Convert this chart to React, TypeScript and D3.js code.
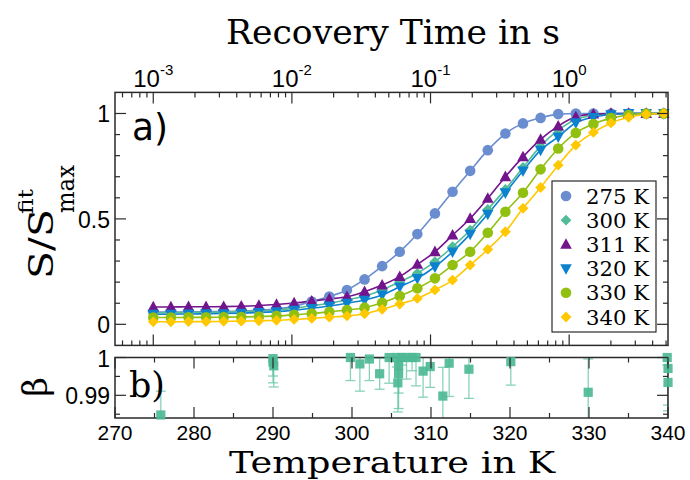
import React from 'react';
import * as d3 from 'd3';

// ---------- DATA ----------
const recoveryTimes = [
  0.001, 0.00134, 0.001795, 0.002404, 0.003221, 0.004315, 0.00578, 0.007745, 0.010375, 0.0139,
  0.01862, 0.02495, 0.03342, 0.04477, 0.05998, 0.08035, 0.1076, 0.1442, 0.1932, 0.2588,
  0.3467, 0.4645, 0.6223, 0.8337, 1.117, 1.496, 2.004, 2.685, 3.597, 4.819,
];

const s275 = [0.058, 0.058, 0.059, 0.06, 0.061, 0.063, 0.067, 0.073, 0.085, 0.108, 0.132, 0.163, 0.213, 0.276, 0.344, 0.428, 0.526, 0.629, 0.728, 0.826, 0.905, 0.953, 0.979, 0.997, 1.0, 1.0, 1.0, 1.0, 1.0, 1.0];
const s300 = [0.055, 0.055, 0.056, 0.057, 0.058, 0.06, 0.063, 0.068, 0.077, 0.088, 0.1, 0.115, 0.134, 0.163, 0.202, 0.242, 0.297, 0.368, 0.447, 0.545, 0.64, 0.744, 0.845, 0.921, 0.972, 0.99, 0.998, 1.0, 1.0, 1.0];
const s311 = [0.082, 0.082, 0.083, 0.083, 0.084, 0.086, 0.089, 0.094, 0.101, 0.11, 0.12, 0.131, 0.155, 0.186, 0.226, 0.284, 0.344, 0.423, 0.502, 0.597, 0.7, 0.794, 0.877, 0.94, 0.984, 0.997, 1.0, 1.0, 1.0, 1.0];
const s320 = [0.048, 0.048, 0.049, 0.05, 0.051, 0.053, 0.056, 0.06, 0.067, 0.076, 0.087, 0.1, 0.115, 0.139, 0.178, 0.218, 0.273, 0.344, 0.428, 0.523, 0.624, 0.728, 0.826, 0.889, 0.956, 0.982, 0.995, 1.0, 1.0, 1.0];
const s330 = [0.032, 0.032, 0.033, 0.033, 0.034, 0.035, 0.037, 0.04, 0.045, 0.051, 0.059, 0.068, 0.079, 0.102, 0.134, 0.171, 0.218, 0.281, 0.344, 0.434, 0.534, 0.624, 0.735, 0.834, 0.908, 0.95, 0.978, 0.993, 1.0, 1.0];
const s340 = [0.012, 0.012, 0.013, 0.013, 0.014, 0.015, 0.017, 0.019, 0.023, 0.028, 0.034, 0.04, 0.05, 0.071, 0.096, 0.123, 0.163, 0.21, 0.281, 0.355, 0.439, 0.55, 0.649, 0.755, 0.85, 0.91, 0.955, 0.982, 0.996, 1.0];

const seriesLabels = ['275 K', '300 K', '311 K', '320 K', '330 K', '340 K'];
const seriesValues = [s275, s300, s311, s320, s330, s340];
const seriesColors = ['#6a8dcf', '#52bb98', '#72148c', '#0c82cf', '#92c011', '#ffc800'];
const seriesShapes = ['circle', 'diamond', 'triUp', 'triDown', 'circle', 'diamond'];

const betaTemps = [275.8, 290.0, 290.0, 290.1, 299.8, 301.0, 302.2, 303.5, 304.7, 305.7, 306.3, 306.9, 307.6, 308.1, 305.9, 305.9, 305.8, 309.0, 309.9, 311.5, 312.3, 314.8, 320.1, 329.9, 339.9, 340.0, 340.0];
const betaValues = [0.9848, 0.9997, 0.9988, 0.9978, 1.0, 0.9983, 0.9996, 0.9957, 1.0, 1.0, 1.0, 1.0, 1.0, 1.0, 0.9978, 0.9958, 0.9933, 0.9964, 0.9976, 0.9898, 0.9985, 0.9969, 0.9989, 0.9908, 1.0, 0.9971, 0.9934];
const betaErrors = [0.0063, 0.0046, 0.0055, 0.0056, 0.0061, 0.0072, 0.0057, 0.0041, 0.0068, 0.0025, 0.002, 0.0057, 0.0035, 0.0075, 0.0072, 0.0093, 0.0077, 0.0069, 0.0055, 0.0076, 0.0088, 0.0077, 0.0062, 0.0088, 0.002, 0.0097, 0.0075];

const topYTicks = [0, 0.1, 0.2, 0.3, 0.4, 0.5, 0.6, 0.7, 0.8, 0.9, 1.0];
const topYLabels = [{ v: 0, t: '0' }, { v: 0.5, t: '0.5' }, { v: 1, t: '1' }];
const tempTicks = [270, 275, 280, 285, 290, 295, 300, 305, 310, 315, 320, 325, 330, 335, 340];
const tempLabels = [270, 280, 290, 300, 310, 320, 330, 340];
const betaTicks = [0.985, 0.99, 0.995, 1.0];
const betaLabels = [{ v: 0.99, t: '0.99' }, { v: 1.0, t: '1' }];
const decadeLabels = [-3, -2, -1, 0];

// ---------- LAYOUT ----------
const L = 115, R = 668;
const T1 = 92.4, B1 = 345.4;
const T2 = 357.5, B2 = 418;

const xTime = d3.scaleLog().domain([Math.pow(10, -3.276), Math.pow(10, 0.713)]).range([L, R]);
const yS = d3.scaleLinear().domain([-0.1, 1.1]).range([B1, T1]);
const xTemp = d3.scaleLinear().domain([270, 340]).range([L, R]);
const yBeta = d3.scaleLinear().domain([0.984, 1.0]).range([B2, T2]);

const SANS = 'Liberation Sans, Arial, sans-serif';
const SERIF = 'DejaVu Serif, serif';
const AX = '#2a2a2a';

function Marker({ shape, x, y, color }: { shape: string; x: number; y: number; color: string }) {
  if (shape === 'circle') return <circle cx={x} cy={y} r={5.3} fill={color} />;
  let p = '';
  if (shape === 'diamond') p = 'M0,-5.4L5.4,0L0,5.4L-5.4,0Z';
  else if (shape === 'triUp') p = 'M0,-6.2L5.8,4.4L-5.8,4.4Z';
  else p = 'M0,6.2L5.8,-4.4L-5.8,-4.4Z';
  return <path d={p} transform={`translate(${x},${y})`} fill={color} />;
}

export default function App() {
  const line = d3
    .line<number>()
    .x((_, i) => xTime(recoveryTimes[i]))
    .y((d) => yS(d))
    .curve(d3.curveMonotoneX);

  const logTicks = xTime.ticks();
  const isMajorLog = (v: number) => Math.abs(Math.log10(v) - Math.round(Math.log10(v))) < 1e-6;

  return (
    <svg width={690} height={480} style={{ position: 'absolute', left: 0, top: 0, background: '#fff' }}>
      <defs>
        <clipPath id="clipB">
          <rect x={L} y={T2} width={R - L} height={B2 - T2} />
        </clipPath>
      </defs>
      <rect x={0} y={0} width={690} height={480} fill="#fff" />

      {/* Title top */}
      <text x={393} y={44} fontFamily={SERIF} fontSize={33} textAnchor="middle" textLength={334} lengthAdjust="spacingAndGlyphs" fill="#000">
        Recovery Time in s
      </text>

      {/* top axis labels */}
      {decadeLabels.map((e) => (
        <text key={e} x={xTime(Math.pow(10, e))} y={87} fontFamily={SANS} fontSize={24} textAnchor="middle" fill="#000">
          <tspan>10</tspan>
          <tspan fontSize={15} dy={-12}>{e === 0 ? '0' : `-${-e}`}</tspan>
        </text>
      ))}

      {/* Series lines */}
      {seriesValues.map((vals, si) => (
        <path key={'l' + si} d={line(vals) || ''} fill="none" stroke={seriesColors[si]} strokeWidth={1.6} />
      ))}
      {seriesValues.map((vals, si) => (
        <g key={'m' + si}>
          {vals.map((v, i) => (
            <Marker key={i} shape={seriesShapes[si]} x={xTime(recoveryTimes[i])} y={yS(v)} color={seriesColors[si]} />
          ))}
        </g>
      ))}

      {/* Top panel frame and ticks */}
      <rect x={L} y={T1} width={R - L} height={B1 - T1} fill="none" stroke={AX} strokeWidth={1.5} />
      {logTicks.map((v, i) => {
        const x = xTime(v);
        const len = isMajorLog(v) ? 11 : 5;
        return (
          <g key={'lt' + i}>
            <line x1={x} x2={x} y1={T1} y2={T1 + len} stroke={AX} strokeWidth={1.2} />
            <line x1={x} x2={x} y1={B1} y2={B1 - len} stroke={AX} strokeWidth={1.2} />
          </g>
        );
      })}
      {topYTicks.map((v, i) => {
        const y = yS(v);
        const major = Math.abs(v * 2 - Math.round(v * 2)) < 1e-6;
        const len = major ? 11 : 5;
        return (
          <g key={'yt' + i}>
            <line x1={L} x2={L + len} y1={y} y2={y} stroke={AX} strokeWidth={1.2} />
            <line x1={R} x2={R - len} y1={y} y2={y} stroke={AX} strokeWidth={1.2} />
          </g>
        );
      })}
      {topYLabels.map((d) => (
        <text key={d.t} x={110} y={yS(d.v) + 9} fontFamily={SANS} fontSize={23} textAnchor="end" fill="#000">
          {d.t}
        </text>
      ))}

      {/* a) */}
      <text x={132} y={140} fontFamily="DejaVu Sans, sans-serif" fontSize={38} fill="#000" textLength={36} lengthAdjust="spacingAndGlyphs">
        a)
      </text>

      {/* Legend */}
      <rect x={552} y={181} width={104} height={151} fill="#fff" stroke={AX} strokeWidth={1.2} />
      {seriesLabels.map((lab, i) => {
        const y = 196 + i * 24.2;
        return (
          <g key={lab}>
            <Marker shape={seriesShapes[i]} x={566} y={y} color={seriesColors[i]} />
            <text x={586} y={y + 7.5} fontFamily={SERIF} fontSize={20.7} textLength={63} lengthAdjust="spacingAndGlyphs" fill="#000">
              {lab}
            </text>
          </g>
        );
      })}

      {/* Y label top */}
      <g transform="translate(53,279) rotate(-90)">
        <text x={0} y={0} fontFamily={SERIF} fontSize={34} textLength={70} lengthAdjust="spacingAndGlyphs" fill="#000">
          S/S
        </text>
        <text x={65} y={-20} fontFamily={SERIF} fontSize={21} textLength={25} lengthAdjust="spacingAndGlyphs" fill="#000">
          fit
        </text>
        <text x={66} y={21} fontFamily={SERIF} fontSize={25} textLength={48} lengthAdjust="spacingAndGlyphs" fill="#000">
          max
        </text>
      </g>

      {/* Bottom panel */}
      <g clipPath="url(#clipB)">
        {betaTemps.map((t, i) => {
          const x = xTemp(t);
          const y1 = yBeta(betaValues[i] - betaErrors[i]);
          const y2 = yBeta(betaValues[i] + betaErrors[i]);
          return (
            <g key={'e' + i} stroke="#62c3a3" strokeWidth={1.3} opacity={0.75}>
              <line x1={x} x2={x} y1={y1} y2={y2} />
              <line x1={x - 5} x2={x + 5} y1={y1} y2={y1} />
              <line x1={x - 5} x2={x + 5} y1={y2} y2={y2} />
            </g>
          );
        })}
      </g>
      <rect x={L} y={T2} width={R - L} height={B2 - T2} fill="none" stroke={AX} strokeWidth={1.5} />
      {betaTemps.map((t, i) => (
        <rect key={'b' + i} x={xTemp(t) - 4.6} y={yBeta(betaValues[i]) - 4.6} width={9.2} height={9.2} fill="#4db894" opacity={0.92} />
      ))}
      {tempTicks.map((v) => {
        const x = xTemp(v);
        const len = v % 10 === 0 ? 11 : 5;
        return (
          <g key={'tt' + v}>
            <line x1={x} x2={x} y1={T2} y2={T2 + len} stroke={AX} strokeWidth={1.2} />
            <line x1={x} x2={x} y1={B2} y2={B2 - len} stroke={AX} strokeWidth={1.2} />
          </g>
        );
      })}
      {betaTicks.map((v) => {
        const y = yBeta(v);
        const major = Math.abs(v * 100 - Math.round(v * 100)) < 1e-6;
        const len = major ? 11 : 5;
        return (
          <g key={'bt' + v}>
            <line x1={L} x2={L + len} y1={y} y2={y} stroke={AX} strokeWidth={1.2} />
            <line x1={R} x2={R - len} y1={y} y2={y} stroke={AX} strokeWidth={1.2} />
          </g>
        );
      })}
      {betaLabels.map((d) => (
        <text key={d.t} x={110} y={yBeta(d.v) + 9} fontFamily={SANS} fontSize={23} textAnchor="end" fill="#000">
          {d.t}
        </text>
      ))}
      {tempLabels.map((v) => (
        <text key={'tl' + v} x={xTemp(v)} y={439.5} fontFamily={SANS} fontSize={21} textAnchor="middle" fill="#000">
          {v}
        </text>
      ))}

      {/* b) */}
      <text x={129} y={397} fontFamily={SERIF} fontSize={36} fill="#000" textLength={36} lengthAdjust="spacingAndGlyphs">
        b)
      </text>

      {/* beta label */}
      <text transform="translate(47,387) rotate(-90)" x={0} y={0} fontFamily={SERIF} fontSize={34} textAnchor="middle" fill="#000">
        β
      </text>

      {/* X title */}
      <text x={392} y={472.5} fontFamily={SERIF} fontSize={30.5} textAnchor="middle" textLength={326} lengthAdjust="spacingAndGlyphs" fill="#000">
        Temperature in K
      </text>
    </svg>
  );
}
